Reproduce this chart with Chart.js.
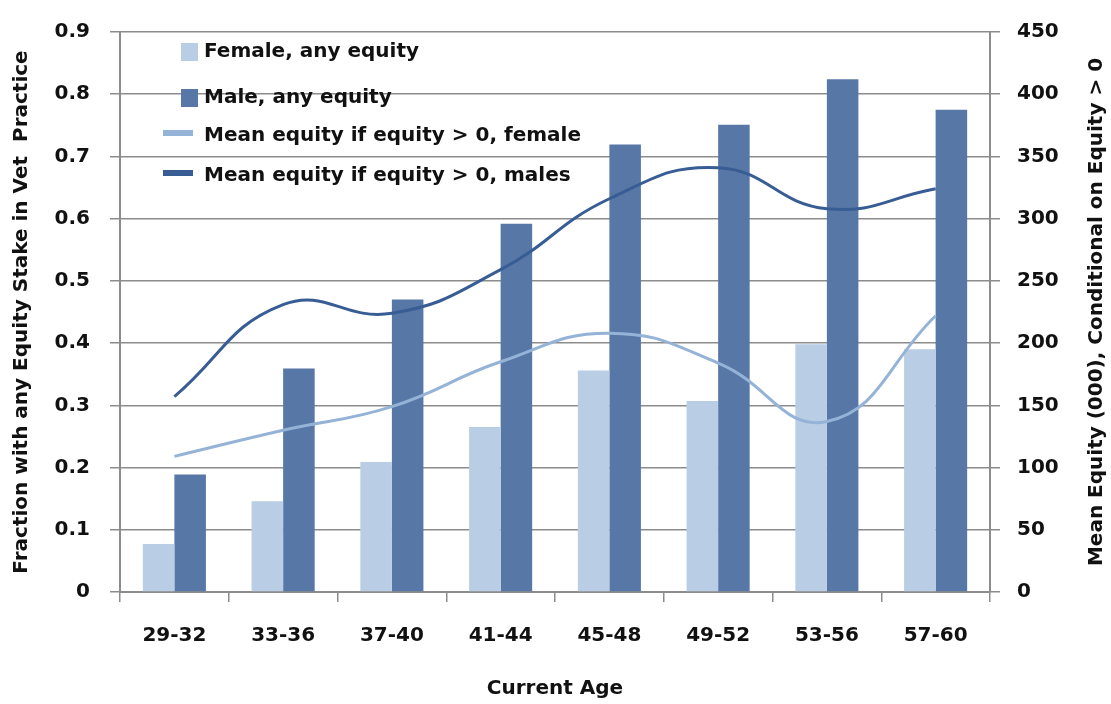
<!DOCTYPE html>
<html lang="en">
<head>
<meta charset="UTF-8">
<title>Equity stake by age</title>
<script src="https://cdn.jsdelivr.net/npm/chart.js"></script>
<style>
    html, body { margin: 0; padding: 0; background: #fff; }
    canvas { display: block; }
</style>
</head>
<body>
<canvas id="equityChart" width="1111" height="704"></canvas>
<script>
    // values
    const ageGroups = ['29-32', '33-36', '37-40', '41-44', '45-48', '49-52', '53-56', '57-60'];
    const femaleAnyEquity = [0.077, 0.146, 0.209, 0.265, 0.356, 0.307, 0.398, 0.390];
    const maleAnyEquity = [0.189, 0.359, 0.470, 0.592, 0.719, 0.751, 0.824, 0.775];
    const femaleMeanEquity = [109, 130, 149, 185, 208, 184, 137, 222];
    const maleMeanEquity = [157, 231, 224, 259, 316, 341, 308, 324];

    const fractionTicks = [0, 0.9, 0.1];
    const meanTicks = [0, 450, 50];
    const rightTitle = 'Mean Equity (000), Conditional on Equity > 0';

    const gridColor = '#8c8c8c';
    const textColor = '#111';
    const tickFont = { family: '"DejaVu Sans"', size: 20, weight: 'bold' };
    const titleFont = { family: '"DejaVu Sans"', size: 20, weight: 'bold' };

    // legend drawn inside the plot, top left, like the original
    const insideLegend = {
        id: 'insideLegend',
        afterDatasetsDraw(chart) {
            const ctx = chart.ctx;
            const rows = [52, 98, 136, 176];
            ctx.save();
            ctx.font = 'bold 20px "DejaVu Sans"';
            ctx.textBaseline = 'middle';
            chart.data.datasets.forEach((ds, i) => {
                const y = rows[i];
                if (ds.type === 'line') {
                    ctx.strokeStyle = ds.borderColor;
                    ctx.lineWidth = 6;
                    ctx.beginPath();
                    ctx.moveTo(163, y - 3);
                    ctx.lineTo(193, y - 3);
                    ctx.stroke();
                } else {
                    ctx.fillStyle = ds.backgroundColor;
                    ctx.fillRect(181, y - 9, 17, 18);
                }
                ctx.fillStyle = textColor;
                ctx.fillText(ds.label, 204, y);
            });
            ctx.restore();
        }
    };

    // right axis title reads bottom-to-top in the original, chart.js turns it the other way
    const rightAxisTitle = {
        id: 'rightAxisTitle',
        afterDraw(chart) {
            const ctx = chart.ctx;
            const area = chart.chartArea;
            ctx.save();
            ctx.translate(1097, (area.top + area.bottom) / 2);
            ctx.rotate(-Math.PI / 2);
            ctx.font = 'bold 20px "DejaVu Sans"';
            ctx.fillStyle = textColor;
            ctx.textAlign = 'center';
            ctx.textBaseline = 'middle';
            ctx.fillText(rightTitle, 0, 0);
            ctx.restore();
        }
    };

    new Chart(document.getElementById('equityChart'), {
        data: {
            labels: ageGroups,
            datasets: [
                {
                    type: 'bar',
                    label: 'Female, any equity',
                    data: femaleAnyEquity,
                    backgroundColor: '#b9cde5',
                    yAxisID: 'y',
                    order: 2
                },
                {
                    type: 'bar',
                    label: 'Male, any equity',
                    data: maleAnyEquity,
                    backgroundColor: '#5777a6',
                    yAxisID: 'y',
                    order: 2
                },
                {
                    type: 'line',
                    label: 'Mean equity if equity > 0, female',
                    data: femaleMeanEquity,
                    borderColor: '#95b3d7',
                    borderWidth: 3,
                    pointRadius: 0,
                    tension: 0.45,
                    fill: false,
                    yAxisID: 'y1',
                    order: 1
                },
                {
                    type: 'line',
                    label: 'Mean equity if equity > 0, males',
                    data: maleMeanEquity,
                    borderColor: '#385d95',
                    borderWidth: 3,
                    pointRadius: 0,
                    tension: 0.45,
                    fill: false,
                    yAxisID: 'y1',
                    order: 0
                }
            ]
        },
        options: {
            responsive: false,
            animation: false,
            devicePixelRatio: 1,
            layout: { padding: { top: 20, left: 0, right: 0, bottom: 0 } },
            datasets: {
                bar: { categoryPercentage: 0.58, barPercentage: 1.0 }
            },
            plugins: {
                legend: { display: false },
                tooltip: { enabled: false }
            },
            scales: {
                x: {
                    afterFit(scale) { scale.height = 112; },
                    grid: {
                        drawOnChartArea: false,
                        offset: true,
                        tickLength: 10,
                        color: gridColor,
                        lineWidth: 1.5
                    },
                    border: { color: gridColor, width: 2 },
                    ticks: { color: textColor, font: tickFont, padding: 22, maxRotation: 0 },
                    title: {
                        display: true,
                        text: 'Current Age',
                        color: textColor,
                        font: titleFont,
                        padding: { top: 0, bottom: 3 }
                    }
                },
                y: {
                    position: 'left',
                    min: fractionTicks[0],
                    max: fractionTicks[1],
                    afterFit(scale) { scale.width = 120; },
                    ticks: { stepSize: fractionTicks[2], color: textColor, font: tickFont, padding: 20 },
                    grid: { color: gridColor, lineWidth: 1.5, tickLength: 10 },
                    border: { color: gridColor, width: 2 },
                    title: {
                        display: true,
                        text: 'Fraction with any Equity Stake in Vet  Practice',
                        color: textColor,
                        font: titleFont,
                        padding: { top: 10, bottom: 0 }
                    }
                },
                y1: {
                    position: 'right',
                    min: meanTicks[0],
                    max: meanTicks[1],
                    afterFit(scale) { scale.width = 121; },
                    ticks: { stepSize: meanTicks[2], color: textColor, font: tickFont, padding: 17 },
                    grid: { drawOnChartArea: false, color: gridColor, lineWidth: 1.5, tickLength: 10 },
                    border: { color: gridColor, width: 2 }
                }
            }
        },
        plugins: [insideLegend, rightAxisTitle]
    });
</script>
</body>
</html>
